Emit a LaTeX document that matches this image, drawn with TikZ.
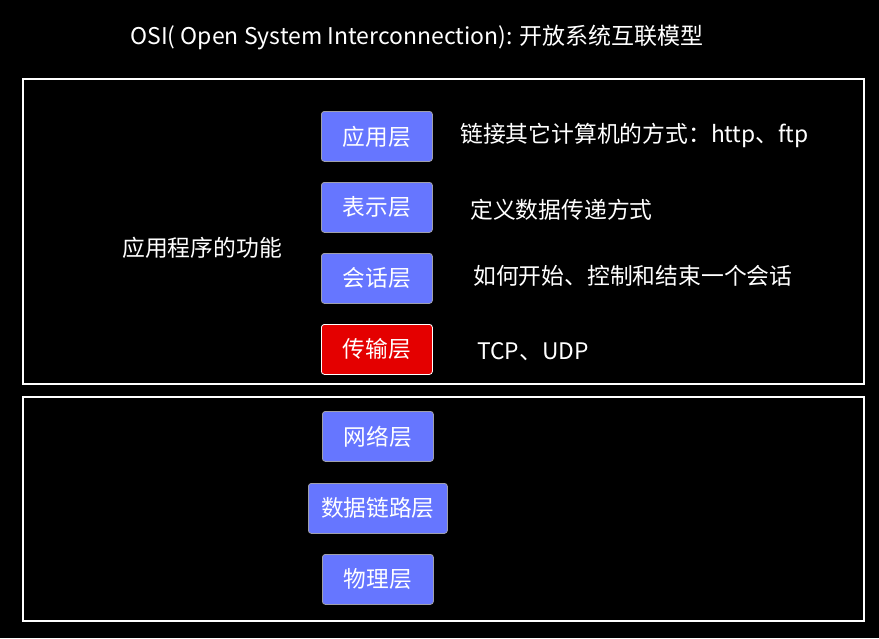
\documentclass[tikz,border=0pt]{standalone}
\usepackage{fontspec}
\setmainfont{Noto Sans CJK SC}
\definecolor{bg}{RGB}{0,0,0}
\definecolor{layerblue}{RGB}{102,118,255}
\definecolor{layerred}{RGB}{228,0,0}
\definecolor{edgegrey}{RGB}{160,160,170}
\begin{document}
\begin{tikzpicture}[x=1pt,y=-1pt,
  layer/.style={draw=edgegrey,line width=0.8pt,fill=layerblue,rounded corners=3pt,text=white,font=\fontsize{22.7}{26}\selectfont,anchor=north west,inner sep=0pt},
  layerhot/.style={layer,draw=white,fill=layerred},
  frame/.style={draw=white,line width=2pt},
  label/.style={text=white,font=\fontsize{22.8}{26}\selectfont,anchor=west,inner sep=0pt}]
\fill[bg] (0,0) rectangle (879,638);
\useasboundingbox (0,0) rectangle (879,638);
\node[text=white,font=\fontsize{23}{26}\selectfont,inner sep=0pt] (title) at (417,37) {OSI( Open System Interconnection): 开放系统互联模型};
\draw[frame] (23,79) rectangle (864,384);
\draw[frame] (23,397) rectangle (864,621);
\node[layer,minimum width=111pt,minimum height=50pt] (app) at (321,111) {应用层};
\node[layer,minimum width=111pt,minimum height=50pt] (pres) at (321,182) {表示层};
\node[layer,minimum width=111pt,minimum height=50pt] (sess) at (321,253) {会话层};
\node[layerhot,minimum width=111pt,minimum height=50pt] (trans) at (321,324) {传输层};
\node[layer,minimum width=111pt,minimum height=50pt] (net) at (322,411) {网络层};
\node[layer,minimum width=139pt,minimum height=50pt] (link) at (308,483) {数据链路层};
\node[layer,minimum width=111pt,minimum height=50pt] (phy) at (322,554) {物理层};
\node[label] (appd) at (460,135) {链接其它计算机的方式：http、ftp};
\node[label] (presd) at (470,210) {定义数据传递方式};
\node[label] (sessd) at (473,276) {如何开始、控制和结束一个会话};
\node[label] (transd) at (477,352) {TCP、UDP};
\node[text=white,font=\fontsize{22.8}{26}\selectfont,inner sep=0pt] (func) at (202,248) {应用程序的功能};
\end{tikzpicture}
\end{document}
